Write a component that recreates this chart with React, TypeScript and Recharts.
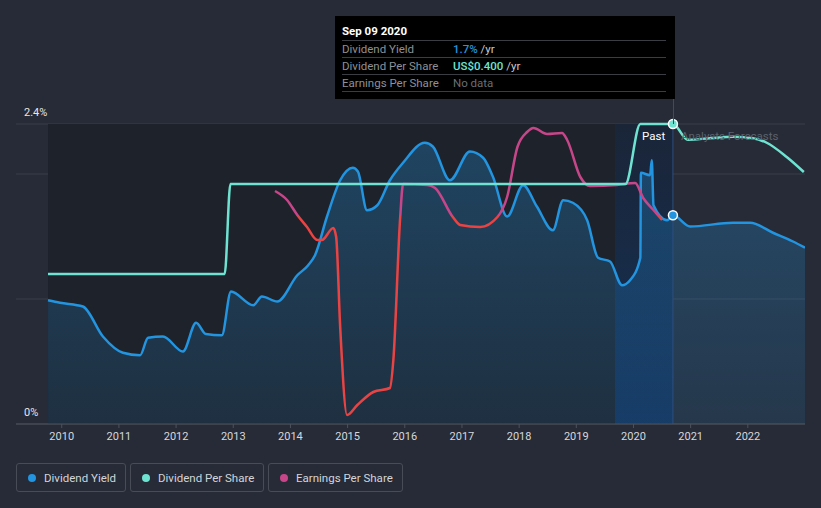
import React from "react";
import {
  ComposedChart,
  Area,
  Line,
  XAxis,
  YAxis,
  CartesianGrid,
  ReferenceArea,
  ReferenceLine,
  ReferenceDot,
} from "recharts";

// [year, value]
const dividendYield: [number, number][] = [
  [2009.76, 0.99], [2009.97, 0.97], [2010.37, 0.94], [2010.72, 0.7], [2011.07, 0.57],
  [2011.37, 0.55], [2011.51, 0.69], [2011.77, 0.7], [2012.12, 0.58], [2012.35, 0.81],
  [2012.52, 0.72], [2012.8, 0.71], [2012.96, 1.06], [2013.35, 0.95], [2013.5, 1.02],
  [2013.77, 0.98], [2014.12, 1.19], [2014.31, 1.27], [2014.43, 1.35], [2014.64, 1.66],
  [2014.87, 1.95], [2015.09, 2.05], [2015.18, 2.02], [2015.34, 1.71], [2015.52, 1.75],
  [2015.74, 1.95], [2015.97, 2.09], [2016.35, 2.25], [2016.49, 2.22], [2016.79, 1.95],
  [2017.14, 2.18], [2017.37, 2.13], [2017.54, 1.98], [2017.79, 1.66], [2018.07, 1.91],
  [2018.31, 1.74], [2018.59, 1.55], [2018.77, 1.79], [2018.94, 1.77], [2019.19, 1.63],
  [2019.38, 1.33], [2019.59, 1.3], [2019.8, 1.11], [2019.94, 1.15], [2020.12, 1.33],
  [2020.13, 2.01], [2020.29, 1.99], [2020.32, 2.11], [2020.35, 1.75], [2020.59, 1.63],
  [2020.69, 1.67], [2020.99, 1.58], [2021.74, 1.61], [2022.04, 1.61], [2022.44, 1.53],
  [2022.79, 1.46], [2023.0, 1.41],
];

const dividendPerShare: [number, number][] = [
  [2009.76, 0.2], [2012.85, 0.2], [2012.95, 0.32], [2019.86, 0.32], [2020.12, 0.4],
  [2020.69, 0.4], [2020.95, 0.379], [2021.33, 0.381], [2021.74, 0.383], [2022.09, 0.381],
  [2022.33, 0.375], [2022.68, 0.356], [2022.98, 0.336],
];

const earningsPerShare: [number, number][] = [
  [2013.73, 1.165], [2013.94, 1.12], [2014.12, 1.045], [2014.29, 0.985], [2014.47, 0.92],
  [2014.55, 0.92], [2014.75, 0.98], [2014.8, 0.935], [2014.87, 0.485], [2014.99, 0.045],
  [2015.17, 0.095], [2015.45, 0.16], [2015.74, 0.18], [2015.8, 0.32], [2015.92, 1.035],
  [2015.97, 1.2], [2016.39, 1.195], [2016.53, 1.18], [2016.84, 1.035], [2016.97, 0.995],
  [2017.32, 0.985], [2017.62, 1.035], [2017.79, 1.135], [2017.97, 1.385], [2018.14, 1.46],
  [2018.25, 1.48], [2018.49, 1.45], [2018.75, 1.455], [2018.84, 1.42], [2019.07, 1.235],
  [2019.24, 1.19], [2019.71, 1.195], [2020.03, 1.205], [2020.17, 1.13], [2020.35, 1.07],
  [2020.5, 1.02],
];

const yearTicks = [2010, 2011, 2012, 2013, 2014, 2015, 2016, 2017, 2018, 2019, 2020, 2021, 2022];
const yieldTicks = [0, 1, 2, 2.4];
const yieldLabels: Record<number, string> = { 0: "0%", 2.4: "2.4%" };

const X_DOMAIN: [number, number] = [2009.2, 2023.0];
const PAST_START = 2009.76;
const HIGHLIGHT_START = 2019.68;
const TODAY = 2020.69;
const EPS_MAX = 1.5;
const EPS_RED_BELOW = 1.04;

const W = 821;
const H = 454;
const TOP = 124;
const PLOT_H = 300;

const BLUE = "#2394df";
const TEAL = "#6fe3d2";
const MAGENTA = "#c7468a";
const RED = "#e94343";
const BG = "#262b37";
const FONT = "Roboto, 'Noto Sans', sans-serif";

const toRows = (pts: [number, number][]) => pts.map(([year, v]) => ({ year, v }));

const YieldTick = (props: any) => {
  const label = yieldLabels[props.payload.value];
  if (!label) return <g />;
  return (
    <text x={24} y={props.y - 8} fill="#e4e6ea" fontSize={11} fontFamily={FONT}>
      {label}
    </text>
  );
};

const legendItems = [
  { name: "Dividend Yield", color: BLUE, width: 110 },
  { name: "Dividend Per Share", color: TEAL, width: 134 },
  { name: "Earnings Per Share", color: MAGENTA, width: 135 },
];

export default function App() {
  const epsSplit = (TOP + (1 - EPS_RED_BELOW / EPS_MAX) * PLOT_H) / H;
  return (
    <div
      style={{
        position: "fixed",
        left: 0,
        top: 0,
        width: 821,
        height: 508,
        background: BG,
        fontFamily: FONT,
        overflow: "hidden",
      }}
    >
      <ComposedChart width={W} height={H} margin={{ top: TOP, right: 16, left: 16, bottom: 0 }}>
        <defs>
          <linearGradient id="yieldFill" x1="0" y1="0" x2="0" y2="1">
            <stop offset="0%" stopColor={BLUE} stopOpacity={0.3} />
            <stop offset="100%" stopColor={BLUE} stopOpacity={0.12} />
          </linearGradient>
          <linearGradient id="bandFill" x1="0" y1="0" x2="0" y2="1">
            <stop offset="0%" stopColor="#1a2538" />
            <stop offset="100%" stopColor="#153157" />
          </linearGradient>
          <linearGradient id="epsStroke" gradientUnits="userSpaceOnUse" x1="0" y1="0" x2="0" y2={H}>
            <stop offset={epsSplit} stopColor={MAGENTA} />
            <stop offset={epsSplit} stopColor={RED} />
          </linearGradient>
        </defs>
        <XAxis
          type="number"
          dataKey="year"
          domain={X_DOMAIN}
          ticks={yearTicks}
          allowDataOverflow
          height={30}
          tick={{ fill: "#d6d8dc", fontSize: 11, fontFamily: FONT }}
          tickSize={4}
          tickMargin={4}
          axisLine={{ stroke: "#4d525c" }}
          tickLine={{ stroke: "#4d525c" }}
        />
        <YAxis
          yAxisId="yield"
          domain={[0, 2.4]}
          ticks={yieldTicks}
          mirror
          axisLine={false}
          tickLine={false}
          tick={<YieldTick />}
        />
        <YAxis yAxisId="dps" domain={[0, 0.4]} hide />
        <YAxis yAxisId="eps" domain={[0, EPS_MAX]} hide />
        <ReferenceArea yAxisId="yield" x1={PAST_START} x2={HIGHLIGHT_START} fill="#1e222b" fillOpacity={1} />
        <ReferenceArea yAxisId="yield" x1={HIGHLIGHT_START} x2={TODAY} fill="url(#bandFill)" fillOpacity={1} />
        <CartesianGrid yAxisId="yield" vertical={false} stroke="#3a3f4a" />
        <ReferenceLine yAxisId="yield" x={TODAY} stroke="#2d4f7e" />
        <Area
          yAxisId="yield"
          data={toRows(dividendYield)}
          dataKey="v"
          type="monotone"
          stroke={BLUE}
          strokeWidth={2.5}
          fill="url(#yieldFill)"
          fillOpacity={1}
          dot={false}
          activeDot={false}
          isAnimationActive={false}
        />
        <Line
          yAxisId="eps"
          data={toRows(earningsPerShare)}
          dataKey="v"
          type="monotone"
          stroke="url(#epsStroke)"
          strokeWidth={2.5}
          dot={false}
          activeDot={false}
          isAnimationActive={false}
        />
        <Line
          yAxisId="dps"
          data={toRows(dividendPerShare)}
          dataKey="v"
          type="monotone"
          stroke={TEAL}
          strokeWidth={2.5}
          dot={false}
          activeDot={false}
          isAnimationActive={false}
        />
        <ReferenceDot yAxisId="dps" x={TODAY} y={0.4} r={4.5} fill={TEAL} stroke="#ffffff" strokeWidth={1.5} />
        <ReferenceDot yAxisId="yield" x={TODAY} y={1.67} r={4.5} fill={BLUE} stroke="#ffffff" strokeWidth={1.5} />
      </ComposedChart>

      {/* line piece between tooltip and plot */}
      <div style={{ position: "absolute", left: 673, top: 99, width: 1, height: 25, background: "#2d4f7e" }} />

      <div style={{ position: "absolute", left: 642, top: 129, fontSize: 11.5, color: "#ffffff" }}>Past</div>
      <div style={{ position: "absolute", left: 681, top: 129, fontSize: 11.5, color: "#5d626c" }}>
        Analysts Forecasts
      </div>

      {/* hover box */}
      <div
        style={{
          position: "absolute",
          left: 335,
          top: 16,
          width: 340,
          height: 83,
          background: "#000000",
          boxSizing: "border-box",
          padding: "7px 9px 0 7px",
        }}
      >
        <div style={{ color: "#ffffff", fontWeight: 700, fontSize: 11.5, height: 17, lineHeight: "17px" }}>
          Sep 09 2020
        </div>
        {[
          { label: "Dividend Yield", value: "1.7%", color: BLUE, unit: " /yr" },
          { label: "Dividend Per Share", value: "US$0.400", color: TEAL, unit: " /yr" },
          { label: "Earnings Per Share", value: "No data", color: "#6a6e75", unit: "" },
        ].map((r) => (
          <div
            key={r.label}
            style={{
              display: "flex",
              borderTop: "1px solid #3a3d44",
              height: 16,
              lineHeight: "16px",
              fontSize: 11.5,
            }}
          >
            <span style={{ width: 111, color: "#8d9097" }}>{r.label}</span>
            <span>
              <span style={{ color: r.color, fontWeight: r.unit ? 500 : 400 }}>{r.value}</span>
              <span style={{ color: "#c9cbd0" }}>{r.unit}</span>
            </span>
          </div>
        ))}
        <div style={{ borderTop: "1px solid #3a3d44" }} />
      </div>

      {/* legend */}
      <div style={{ position: "absolute", left: 16, top: 463, display: "flex", gap: 4 }}>
        {legendItems.map((it) => (
          <div
            key={it.name}
            style={{
              display: "flex",
              alignItems: "center",
              boxSizing: "border-box",
              width: it.width,
              height: 29,
              paddingLeft: 11,
              border: "1px solid #474c57",
              borderRadius: 3,
              fontSize: 11.5,
              color: "#d3d5d9",
              whiteSpace: "nowrap",
            }}
          >
            <span
              style={{
                width: 8,
                height: 8,
                borderRadius: 4,
                background: it.color,
                marginRight: 8,
                display: "inline-block",
                flexShrink: 0,
              }}
            />
            {it.name}
          </div>
        ))}
      </div>
    </div>
  );
}
